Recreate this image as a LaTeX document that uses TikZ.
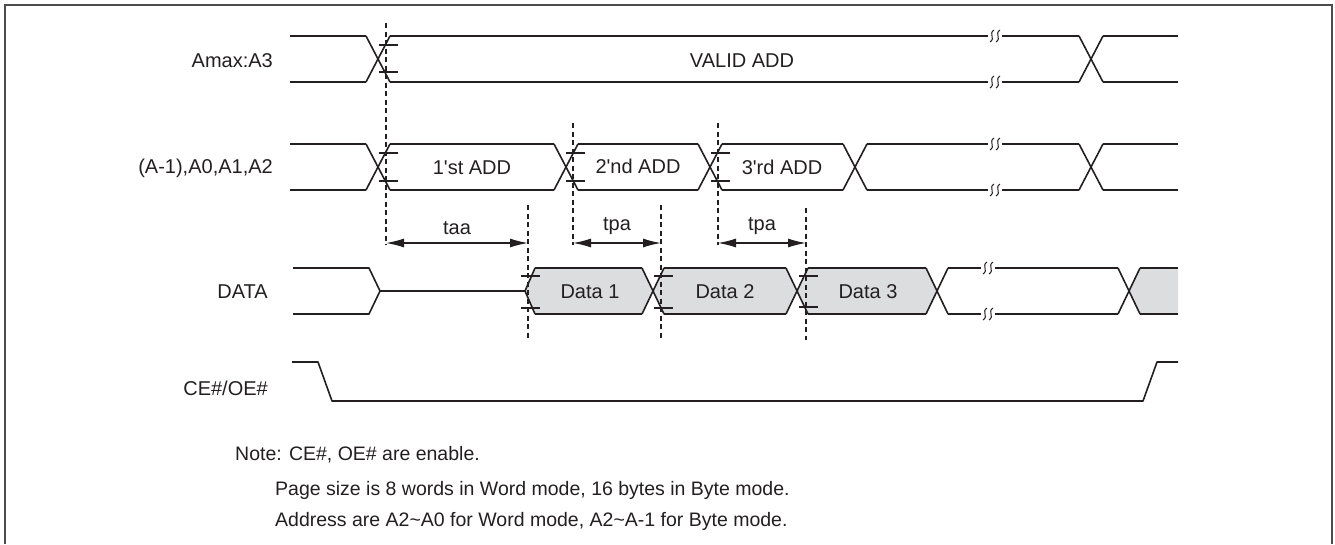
\documentclass[tikz,border=0pt]{standalone}
\usepackage{fontspec}
\setmainfont{Liberation Sans}
\usetikzlibrary{arrows.meta,calc}
\definecolor{ink}{RGB}{35,31,32}
\definecolor{datagray}{RGB}{220,221,223}

\begin{document}
\begin{tikzpicture}[x=1pt,y=-1pt,
    every node/.style={font=\fontsize{20}{24}\selectfont,text=ink,inner sep=0pt},
    sig/.style={line width=1.6pt,draw=ink,line join=round},
    guide/.style={line width=1.1pt,draw=ink,dash pattern=on 5pt off 3.5pt},
    tick/.style={line width=1.3pt,draw=ink},
    dim/.style={line width=1.3pt,draw=ink,{Latex[length=18pt,width=9pt]}-{Latex[length=18pt,width=9pt]}},
    brk/.pic={
      \fill[white] (-7,-4) rectangle (7,4);
      \foreach \s in {-3,3}
        \draw[line width=1pt,ink] (\s-2,6) .. controls (\s+4,2) and (\s-4,-2) .. (\s+2,-6);
    }]
  \useasboundingbox (0,0) rectangle (1335,544);
  \draw[line width=1.4pt,draw=black!70] (5,544) -- (5,5) -- (1332,5) -- (1332,544);

  % signal names
  \node[anchor=east] (amax) at (273,61) {Amax:A3};
  \node[anchor=east] (alow) at (273,168) {(A-1),A0,A1,A2};
  \node[anchor=east] (data) at (268,292) {DATA};
  \node[anchor=east] (ceoe) at (268,388) {CE\#/OE\#};

  % Amax:A3
  \foreach \a/\b in {290/366,390/1079,1103/1178}
    \draw[sig] (\a,36) -- (\b,36) (\a,82) -- (\b,82);
  \foreach \c in {378,1091}
    \draw[sig] (\c-12,36) -- (\c+12,82) (\c-12,82) -- (\c+12,36);
  \node (valid) at (742,61) {VALID ADD};

  % (A-1),A0,A1,A2
  \foreach \a/\b in {290/366,390/554,578/698,722/843,867/1079,1103/1178}
    \draw[sig] (\a,144) -- (\b,144) (\a,190) -- (\b,190);
  \foreach \c in {378,566,710,855,1091}
    \draw[sig] (\c-12,144) -- (\c+12,190) (\c-12,190) -- (\c+12,144);
  \node (add1) at (472,168) {1\textquotesingle st ADD};
  \node (add2) at (638,166) {2\textquotesingle nd ADD};
  \node (add3) at (782,167) {3\textquotesingle rd ADD};

  % DATA
  \foreach \a/\b in {525/642,653/786,797/926}
    \fill[datagray] (\a,291) -- (\a+10,268) -- (\b,268) -- (\b+11,291) -- (\b,314) -- (\a+10,314) -- cycle;
  \fill[datagray] (1129,291) -- (1140,268) -- (1178,268) -- (1178,314) -- (1140,314) -- cycle;
  \draw[sig] (293,268) -- (369,268) -- (380,291) -- (369,314) -- (293,314);
  \draw[sig] (380,291) -- (525,291) (535,268) -- (525,291) -- (535,314);
  \foreach \a/\b in {535/642,664/786,808/926,948/1118,1140/1178}
    \draw[sig] (\a,268) -- (\b,268) (\a,314) -- (\b,314);
  \foreach \c in {653,797,937,1129}
    \draw[sig] (\c-11,268) -- (\c+11,314) (\c-11,314) -- (\c+11,268);
  \node (d1) at (590,292) {Data 1};
  \node (d2) at (725,292) {Data 2};
  \node (d3) at (868,292) {Data 3};

  % CE#/OE#
  \draw[sig] (292,362) -- (318,362) -- (332,401) -- (1143,401) -- (1157,362) -- (1178,362);

  % breaks
  \foreach \x/\y in {995/36,995/82,995/144,995/190,988/268,988/314}
    \pic at (\x,\y) {brk};

  % timing marks
  \foreach \x/\ya/\yb in {386/23/245,573/123/245,718/123/245,528/205/338,661/205/340,806/208/340}
    \draw[guide] (\x,\ya) -- (\x,\yb);
  \foreach \x/\t/\b in {386/45/72,386/153/181,573/153/181,718/153/181,528/276/308,661/276/308,806/276/307}
    \draw[tick] (\x-7,\t) -- ++(19,0) (\x-7,\b) -- ++(19,0);

  \coordinate (t0) at (386,243);
  \coordinate (t1) at (528,243);
  \coordinate (t2) at (573,243);
  \coordinate (t3) at (661,243);
  \coordinate (t4) at (718,243);
  \coordinate (t5) at (806,243);
  \draw[dim] (t0) -- (t1) node[midway,above=8pt] (taa) {taa};
  \draw[dim] (t2) -- (t3) node[midway,above=8pt] (tpa1) {tpa};
  \draw[dim] (t4) -- (t5) node[midway,above=8pt] (tpa2) {tpa};

  % note
  \begin{scope}[every node/.append style={font=\fontsize{19.5}{24}\selectfont,anchor=west}]
    \node (note1) at (235,455) {Note: CE\#, OE\# are enable.};
    \node (note2) at (275,490) {Page size is 8 words in Word mode, 16 bytes in Byte mode.};
    \node (note3) at (275,521) {Address are A2\textasciitilde A0 for Word mode, A2\textasciitilde A-1 for Byte mode.};
  \end{scope}

\end{tikzpicture}
\end{document}
